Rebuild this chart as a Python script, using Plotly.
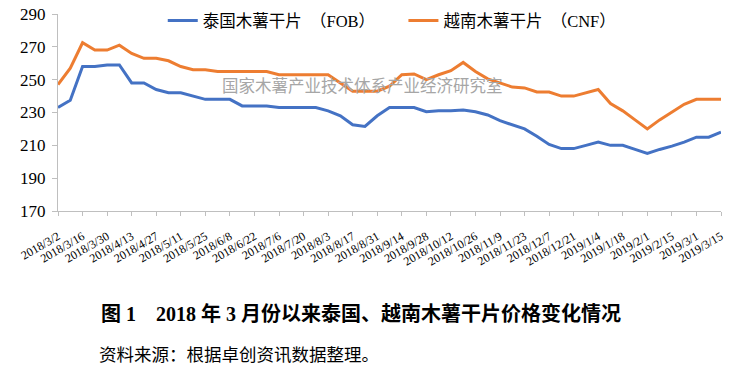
import plotly.graph_objects as go

dates = [
    "2018/3/2", "2018/3/9", "2018/3/16", "2018/3/23", "2018/3/30", "2018/4/6", "2018/4/13",
    "2018/4/20", "2018/4/27", "2018/5/4", "2018/5/11", "2018/5/18", "2018/5/25", "2018/6/1",
    "2018/6/8", "2018/6/15", "2018/6/22", "2018/6/29", "2018/7/6", "2018/7/13", "2018/7/20",
    "2018/7/27", "2018/8/3", "2018/8/10", "2018/8/17", "2018/8/24", "2018/8/31", "2018/9/7",
    "2018/9/14", "2018/9/21", "2018/9/28", "2018/10/5", "2018/10/12", "2018/10/19", "2018/10/26",
    "2018/11/2", "2018/11/9", "2018/11/16", "2018/11/23", "2018/11/30", "2018/12/7", "2018/12/14",
    "2018/12/21", "2018/12/28", "2019/1/4", "2019/1/11", "2019/1/18", "2019/1/25", "2019/2/1",
    "2019/2/8", "2019/2/15", "2019/2/22", "2019/3/1", "2019/3/8", "2019/3/15",
]

thai_fob = [
    233, 237.5, 258, 258, 259, 259, 248, 248, 244, 242, 242, 240, 238, 238, 238,
    234, 234, 234, 233, 233, 233, 233, 231, 228, 222.5, 221.5, 228, 233, 233, 233,
    230.5, 231, 231, 231.5, 230.5, 228.5, 225, 222.5, 220, 215.5, 210.5, 208, 208, 210,
    212, 210, 210, 207.5, 205, 207.5, 209.5, 212, 215, 215, 218,
]

vietnam_cnf = [
    247, 257, 272.5, 268, 268, 271, 266, 263, 263, 261.5, 258, 256, 256, 255, 255,
    255, 255, 255, 253, 253, 253, 253, 253, 248, 243, 243, 243, 246, 253, 253.5,
    250, 253, 255.5, 260.5, 255, 250.5, 248, 245.5, 245, 242.5, 242.5, 240, 240, 242,
    244, 235.5, 231, 225.5, 220, 225.5, 230, 235, 238, 238, 238,
]

tick_labels = dates[::2]
y_ticks = [170, 190, 210, 230, 250, 270, 290]

name_thai = "泰国木薯干片\u2002（FOB）"
name_viet = "越南木薯干片\u2002（CNF）"
watermark = "国家木薯产业技术体系产业经济研究室"
title_text = "<b>图 1\u00a0\u00a0\u00a0 2018 年 3 月份以来泰国、越南木薯干片价格变化情况</b>"
source_text = "资料来源：根据卓创资讯数据整理。"

FONT = "Liberation Serif, 'Times New Roman', 'Noto Sans CJK SC', serif"
CJK = "'Noto Sans CJK SC', sans-serif"
AXIS_COLOR = "#BFBFBF"

fig = go.Figure()
fig.add_trace(go.Scatter(
    x=dates, y=thai_fob, mode="lines", name=name_thai,
    line=dict(color="#4472C4", width=3), legend="legend",
))
fig.add_trace(go.Scatter(
    x=dates, y=vietnam_cnf, mode="lines", name=name_viet,
    line=dict(color="#ED7D31", width=3), legend="legend2",
))

fig.update_layout(
    width=739, height=383,
    margin=dict(l=58, r=18, t=14, b=172, autoexpand=False),
    paper_bgcolor="white", plot_bgcolor="white",
    font=dict(family=FONT, color="black"),
    legend=dict(x=0.158, y=0.965, xanchor="left", yanchor="middle",
                font=dict(size=16.5, family=FONT), bgcolor="rgba(0,0,0,0)"),
    legend2=dict(x=0.521, y=0.965, xanchor="left", yanchor="middle",
                 font=dict(size=16.5, family=FONT), bgcolor="rgba(0,0,0,0)"),
    showlegend=True,
)

fig.update_xaxes(
    type="category", range=[0, len(dates) - 1],
    tickmode="array", tickvals=tick_labels, ticktext=tick_labels,
    tickangle=-30, tickfont=dict(size=12, family=FONT), ticklabelstandoff=9,
    showline=True, linecolor=AXIS_COLOR, linewidth=1,
    ticks="outside", ticklen=4, tickcolor=AXIS_COLOR,
    showgrid=False, zeroline=False,
)
fig.update_yaxes(
    range=[170, 290], tickmode="array", tickvals=y_ticks,
    tickfont=dict(size=17, family=FONT), ticklabelstandoff=3,
    showline=True, linecolor=AXIS_COLOR, linewidth=1,
    ticks="outside", ticklen=5, tickcolor=AXIS_COLOR,
    showgrid=False, zeroline=False,
)

fig.add_annotation(
    text=watermark, xref="paper", yref="paper", x=0.245, y=0.64,
    xanchor="left", yanchor="middle", showarrow=False,
    font=dict(size=16.5, color="#A6A6A6", family=CJK),
)
fig.add_annotation(
    text=title_text, xref="paper", yref="paper", x=0.457, y=-0.518,
    xanchor="center", yanchor="middle", showarrow=False,
    font=dict(size=20, color="black", family=FONT),
)
fig.add_annotation(
    text=source_text, xref="paper", yref="paper", x=0.059, y=-0.731,
    xanchor="left", yanchor="middle", showarrow=False,
    font=dict(size=17.5, color="black", family=FONT),
)

# Remove the browser's default 8px body margin so the figure sits at the page origin.
fig.write_html(
    "out.html",
    config={"displayModeBar": False},
    post_script="document.body.style.margin='0';document.body.style.overflow='hidden';",
)
